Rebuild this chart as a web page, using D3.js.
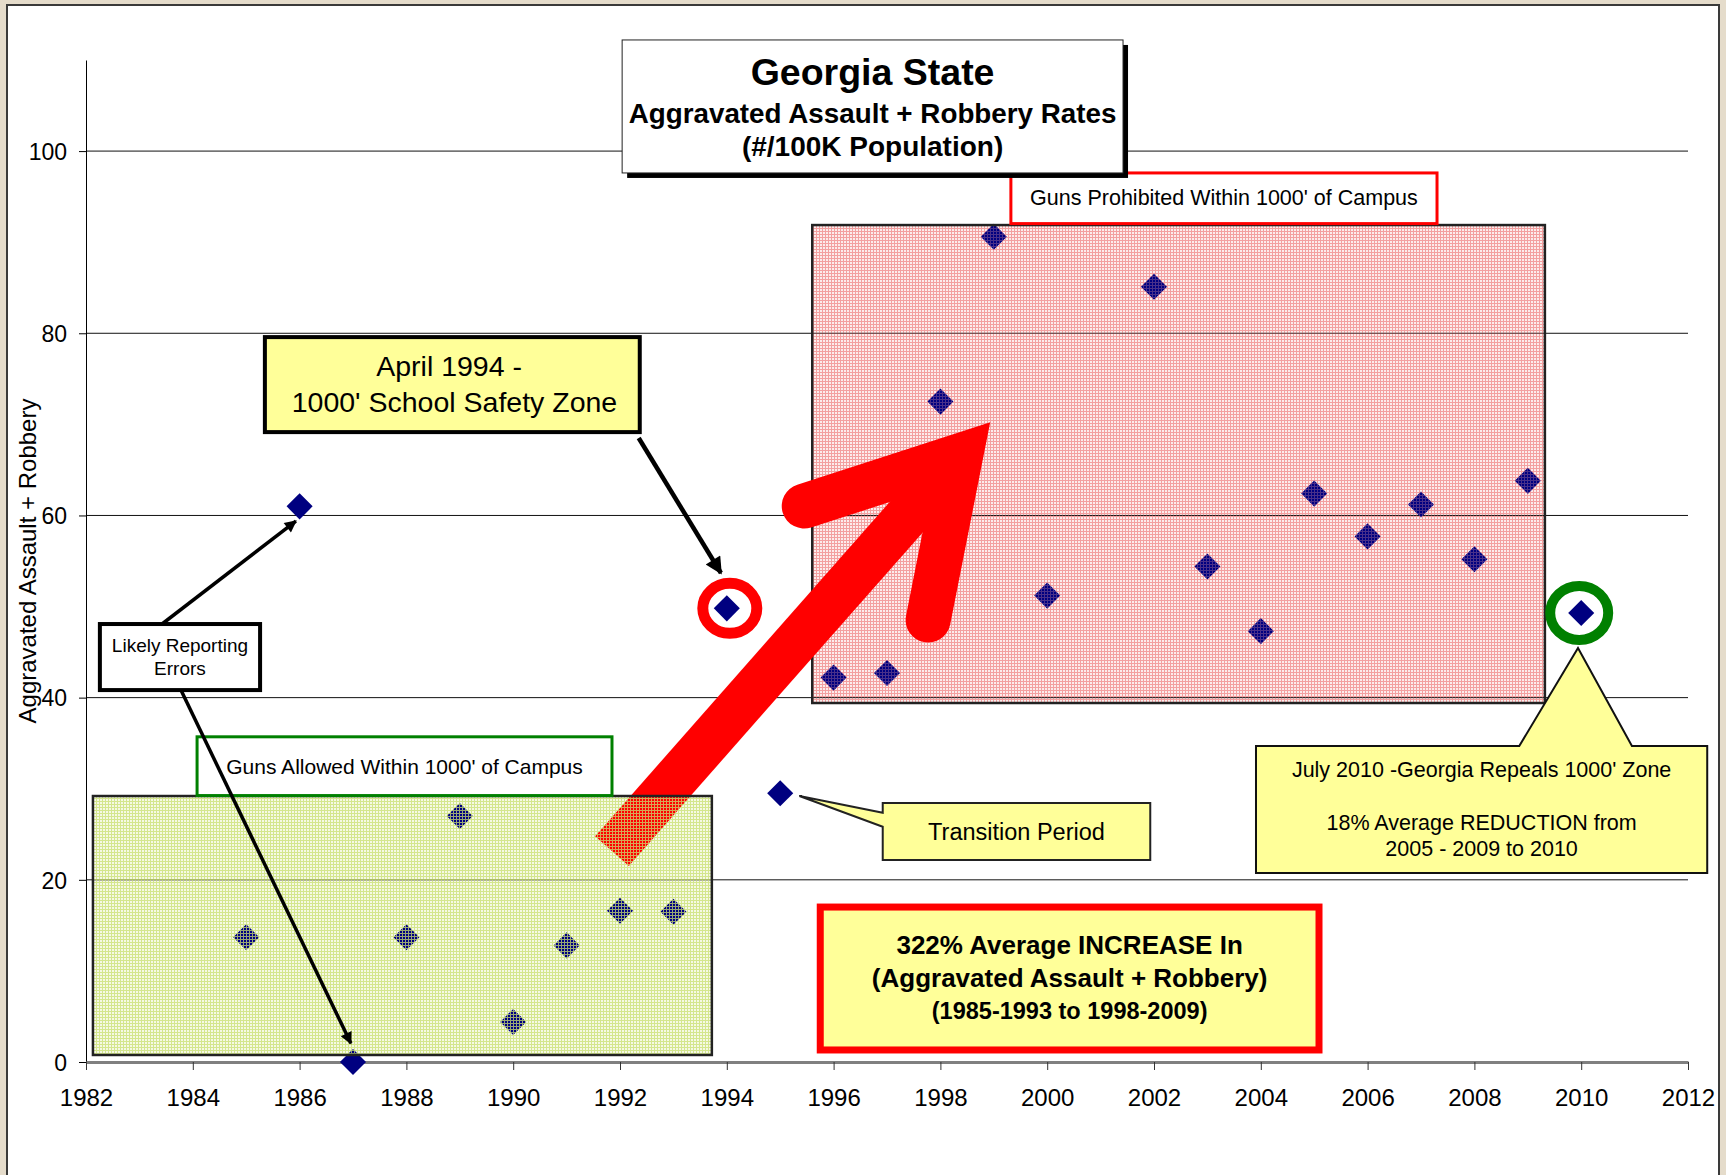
<!DOCTYPE html>
<html>
<head>
<meta charset="utf-8">
<script src="https://cdn.jsdelivr.net/npm/d3@7"></script>
<style>
  body { margin: 0; background: #e5dccb; }
  svg { display: block; font-family: "Liberation Sans", Arial, sans-serif; }
</style>
</head>
<body>
<svg width="1726" height="1175"></svg>
<script>
// Data
var years = [1985, 1986, 1987, 1988, 1989, 1990, 1991, 1992, 1993, 1994, 1995,
  1996, 1997, 1998, 1999, 2000, 2002, 2003, 2004, 2005, 2006, 2007, 2008, 2009, 2010];
var rates = [13.7, 61.0, 0, 13.7, 27.0, 4.4, 12.8, 16.6, 16.5, 49.8, 29.5,
  42.2, 42.7, 72.5, 90.6, 51.2, 85.1, 54.4, 47.3, 62.4, 57.7, 61.2, 55.2, 63.8, 49.3];
var xTicks = [1982, 1984, 1986, 1988, 1990, 1992, 1994, 1996, 1998, 2000, 2002, 2004, 2006, 2008, 2010, 2012];
var yTicks = [0, 20, 40, 60, 80, 100];

var points = years.map(function(d, i) { return {year: d, rate: rates[i]}; });

// The svg
var svg = d3.select("svg"),
  width = +svg.attr("width"),
  height = +svg.attr("height");

var margin = {top: 60, right: 38, bottom: 113, left: 86};

var x = d3.scaleLinear()
  .domain([1982, 2012])
  .range([margin.left, width - margin.right]);
var y = d3.scaleLinear()
  .domain([0, 110])
  .range([height - margin.bottom, margin.top]);

// rect in data units
function dataRect(g, x0, x1, v0, v1) {
  return g.append("rect")
    .attr("x", x(x0))
    .attr("y", y(v1))
    .attr("width", x(x1) - x(x0))
    .attr("height", y(v0) - y(v1));
}

// Patterns
var defs = svg.append("defs");
var gp = defs.append("pattern").attr("id", "greenGrid")
  .attr("width", 3).attr("height", 3).attr("patternUnits", "userSpaceOnUse");
gp.append("rect").attr("width", 3).attr("height", 1).attr("fill", "#c9df70");
gp.append("rect").attr("width", 1).attr("height", 3).attr("fill", "#c9df70");
var pp = defs.append("pattern").attr("id", "pinkGrid")
  .attr("width", 3).attr("height", 3).attr("patternUnits", "userSpaceOnUse");
pp.append("rect").attr("width", 3).attr("height", 1).attr("fill", "#f3a0a0");
pp.append("rect").attr("width", 1).attr("height", 3).attr("fill", "#f3a0a0");

function marker(id, w, h) {
  defs.append("marker").attr("id", id)
    .attr("viewBox", "0 0 10 10").attr("refX", 9).attr("refY", 5)
    .attr("markerWidth", w).attr("markerHeight", h)
    .attr("markerUnits", "userSpaceOnUse").attr("orient", "auto")
    .append("path").attr("d", "M0,0L10,5L0,10Z").attr("fill", "#000");
}
marker("headBig", 22, 17);
marker("headSmall", 15, 12);

// White panel
svg.append("rect")
  .attr("x", 7).attr("y", 5).attr("width", 1712).attr("height", 1180)
  .attr("fill", "#fff").attr("stroke", "#3a3a3a").attr("stroke-width", 2);

// Shaded period backgrounds
var pinkZone = {x0: 1995.6, x1: 2009.32, v0: 39.41, v1: 91.88};
var greenZone = {x0: 1982.13, x1: 1993.72, v0: 0.77, v1: 29.2};
dataRect(svg, pinkZone.x0, pinkZone.x1, pinkZone.v0, pinkZone.v1).attr("fill", "#fcecec");
dataRect(svg, pinkZone.x0, pinkZone.x1, pinkZone.v0, pinkZone.v1).attr("fill", "url(#pinkGrid)");
dataRect(svg, greenZone.x0, greenZone.x1, greenZone.v0, greenZone.v1).attr("fill", "#f5f9e4");

// Gridlines
svg.append("g")
  .selectAll("line")
  .data(yTicks.filter(function(d) { return d > 0; }))
  .enter()
  .append("line")
    .attr("x1", x(1982)).attr("x2", x(2012))
    .attr("y1", function(d) { return y(d); })
    .attr("y2", function(d) { return y(d); })
    .attr("stroke", "#111").attr("stroke-width", 1);

// Axes
var yAxis = svg.append("g")
  .attr("transform", "translate(" + x(1982) + ",0)")
  .call(d3.axisLeft(y).tickValues(yTicks).tickSize(7).tickSizeOuter(0).tickPadding(12));
yAxis.select(".domain").attr("stroke", "#000");
yAxis.selectAll("text").attr("font-size", 23).attr("dy", "0.36em")
  .attr("font-family", "\"Liberation Sans\", Arial, sans-serif").attr("fill", "#000");

var xAxis = svg.append("g")
  .attr("transform", "translate(0," + y(0) + ")")
  .call(d3.axisBottom(x).tickValues(xTicks).tickFormat(d3.format("d"))
    .tickSize(8).tickSizeOuter(0).tickPadding(19));
xAxis.select(".domain").attr("stroke", "#808080").attr("stroke-width", 3);
xAxis.selectAll(".tick line").attr("stroke", "#333");
xAxis.selectAll("text").attr("font-size", 24)
  .attr("font-family", "\"Liberation Sans\", Arial, sans-serif").attr("fill", "#000");

// Y axis title
svg.append("text")
  .attr("transform", "translate(36," + y(55) + ") rotate(-90)")
  .attr("text-anchor", "middle")
  .attr("font-size", 24)
  .text("Aggravated Assault + Robbery");

// Data points
svg.append("g")
  .selectAll("path")
  .data(points)
  .enter()
  .append("path")
    .attr("d", d3.symbol().type(d3.symbolSquare).size(340))
    .attr("transform", function(d) { return "translate(" + x(d.year) + "," + y(d.rate) + ") rotate(45)"; })
    .attr("fill", "#000080");

// Faint pattern over the pink zone
dataRect(svg, pinkZone.x0, pinkZone.x1, pinkZone.v0, pinkZone.v1)
  .attr("fill", "url(#pinkGrid)").attr("fill-opacity", 0.3)
  .attr("stroke", "#222").attr("stroke-width", 2.5);

// Big red arrow
var arrowShaft = [1991.85, 23.16], arrowJoin = [1998.38, 66.59];
var armLeft = [1995.45, 61.03], armRight = [1997.77, 48.52];
svg.append("line")
  .attr("x1", x(arrowShaft[0])).attr("y1", y(arrowShaft[1]))
  .attr("x2", x(arrowJoin[0])).attr("y2", y(arrowJoin[1]))
  .attr("stroke", "#ff0000").attr("stroke-width", 45);
svg.append("path")
  .attr("d", d3.line()([[x(armLeft[0]), y(armLeft[1])], [x(arrowJoin[0]), y(arrowJoin[1])], [x(armRight[0]), y(armRight[1])]]))
  .attr("fill", "none").attr("stroke", "#ff0000").attr("stroke-width", 45)
  .attr("stroke-linecap", "round").attr("stroke-linejoin", "miter");

// Pattern over the green zone (covers the arrow's tail)
dataRect(svg, greenZone.x0, greenZone.x1, greenZone.v0, greenZone.v1)
  .attr("fill", "url(#greenGrid)").attr("fill-opacity", 0.75)
  .attr("stroke", "#222").attr("stroke-width", 2.5);

// Zone labels
dataRect(svg, 1984.08, 1991.85, 29.25, 35.7)
  .attr("fill", "#fff").attr("stroke", "#008000").attr("stroke-width", 3);
svg.append("text")
  .attr("x", x((1984.08 + 1991.85) / 2)).attr("y", y(35.7) + 37)
  .attr("text-anchor", "middle").attr("font-size", 21)
  .text("Guns Allowed Within 1000' of Campus");

dataRect(svg, 1999.32, 2007.3, 92.04, 97.6)
  .attr("fill", "#fff").attr("stroke", "#ff0000").attr("stroke-width", 3);
svg.append("text")
  .attr("x", x((1999.32 + 2007.3) / 2)).attr("y", y(97.6) + 32)
  .attr("text-anchor", "middle").attr("font-size", 21.5)
  .text("Guns Prohibited Within 1000' of Campus");

// Black pointer arrows
function pointer(a, b, w, head) {
  svg.append("line")
    .attr("x1", x(a[0])).attr("y1", y(a[1]))
    .attr("x2", x(b[0])).attr("y2", y(b[1]))
    .attr("stroke", "#000").attr("stroke-width", w)
    .attr("marker-end", "url(#" + head + ")");
}
pointer([1992.35, 68.5], [1993.89, 53.68], 4.5, "headBig");
pointer([1982.62, 44.46], [1985.93, 59.38], 3.5, "headSmall");
pointer([1983.6, 43.0], [1986.96, 2.05], 3.5, "headSmall");

// Likely Reporting Errors
dataRect(svg, 1982.26, 1985.26, 40.83, 48.08)
  .attr("fill", "#fff").attr("stroke", "#000").attr("stroke-width", 4);
var likely = svg.append("text")
  .attr("text-anchor", "middle").attr("font-size", 19);
likely.append("tspan").attr("x", x(1983.76)).attr("y", y(48.08) + 28).text("Likely Reporting");
likely.append("tspan").attr("x", x(1983.76)).attr("y", y(48.08) + 51).text("Errors");

// April 1994 box
dataRect(svg, 1985.35, 1992.37, 69.15, 79.58)
  .attr("fill", "#ffff99").attr("stroke", "#000").attr("stroke-width", 4);
var april = svg.append("text")
  .attr("text-anchor", "middle").attr("font-size", 28.5);
april.append("tspan").attr("x", x(1988.8)).attr("y", y(79.58) + 39).text("April 1994 -");
april.append("tspan").attr("x", x(1988.9)).attr("y", y(79.58) + 75).text("1000' School Safety Zone");

// Highlight rings
var p1994 = points.filter(function(d) { return d.year === 1994; })[0];
var p2010 = points.filter(function(d) { return d.year === 2010; })[0];
svg.append("ellipse")
  .attr("cx", x(p1994.year) + 3).attr("cy", y(p1994.rate))
  .attr("rx", 27).attr("ry", 25)
  .attr("fill", "none").attr("stroke", "#ff0000").attr("stroke-width", 11);
svg.append("ellipse")
  .attr("cx", x(p2010.year) - 2).attr("cy", y(p2010.rate))
  .attr("rx", 29).attr("ry", 27)
  .attr("fill", "none").attr("stroke", "#008000").attr("stroke-width", 10);

// Transition Period callout
var tb = {x0: 1996.92, x1: 2001.93, v0: 22.17, v1: 28.43};
svg.append("path")
  .attr("d", d3.line()([
    [x(tb.x0), y(tb.v1)], [x(tb.x1), y(tb.v1)], [x(tb.x1), y(tb.v0)], [x(tb.x0), y(tb.v0)],
    [x(tb.x0), y(25.83)], [x(1995.36), y(29.2)], [x(tb.x0), y(27.37)]
  ]) + "Z")
  .attr("fill", "#ffff99").attr("stroke", "#222").attr("stroke-width", 2);
svg.append("text")
  .attr("x", x((tb.x0 + tb.x1) / 2)).attr("y", y(tb.v1) + 37)
  .attr("text-anchor", "middle").attr("font-size", 23.5)
  .text("Transition Period");

// July 2010 callout
var jb = {x0: 2003.91, x1: 2012.36, v0: 20.75, v1: 34.69};
svg.append("path")
  .attr("d", d3.line()([
    [x(jb.x0), y(jb.v1)], [x(2008.84), y(jb.v1)], [x(2009.94), y(45.44)], [x(2010.95), y(jb.v1)],
    [x(jb.x1), y(jb.v1)], [x(jb.x1), y(jb.v0)], [x(jb.x0), y(jb.v0)]
  ]) + "Z")
  .attr("fill", "#ffff99").attr("stroke", "#111").attr("stroke-width", 2);
var july = svg.append("text")
  .attr("text-anchor", "middle").attr("font-size", 21.5);
july.append("tspan").attr("x", x((jb.x0 + jb.x1) / 2)).attr("y", y(jb.v1) + 31).text("July 2010 -Georgia Repeals 1000' Zone");
july.append("tspan").attr("x", x((jb.x0 + jb.x1) / 2)).attr("y", y(jb.v1) + 84).text("18% Average REDUCTION from");
july.append("tspan").attr("x", x((jb.x0 + jb.x1) / 2)).attr("y", y(jb.v1) + 110).text("2005 - 2009 to 2010");

// 322% box
var rb = {x0: 1995.75, x1: 2005.09, v0: 1.32, v1: 17.01};
dataRect(svg, rb.x0, rb.x1, rb.v0, rb.v1)
  .attr("fill", "#ffff99").attr("stroke", "#ff0000").attr("stroke-width", 7);
var inc = svg.append("text")
  .attr("text-anchor", "middle").attr("font-weight", "bold");
inc.append("tspan").attr("x", x((rb.x0 + rb.x1) / 2)).attr("y", y(rb.v1) + 47)
  .attr("font-size", 26).text("322% Average INCREASE In");
inc.append("tspan").attr("x", x((rb.x0 + rb.x1) / 2)).attr("y", y(rb.v1) + 80)
  .attr("font-size", 26).text("(Aggravated Assault + Robbery)");
inc.append("tspan").attr("x", x((rb.x0 + rb.x1) / 2)).attr("y", y(rb.v1) + 112)
  .attr("font-size", 23.5).text("(1985-1993 to 1998-2009)");

// Title box
var tt = {x0: 1992.04, x1: 2001.42, v0: 97.6, v1: 112.2};
dataRect(svg, tt.x0, tt.x1, tt.v0, tt.v1)
  .attr("transform", "translate(5,5)").attr("fill", "#000");
dataRect(svg, tt.x0, tt.x1, tt.v0, tt.v1)
  .attr("fill", "#fff").attr("stroke", "#222").attr("stroke-width", 1);
var title = svg.append("text")
  .attr("text-anchor", "middle").attr("font-weight", "bold");
title.append("tspan").attr("x", x((tt.x0 + tt.x1) / 2)).attr("y", y(tt.v1) + 45)
  .attr("font-size", 37.5).text("Georgia State");
title.append("tspan").attr("x", x((tt.x0 + tt.x1) / 2)).attr("y", y(tt.v1) + 83)
  .attr("font-size", 27.8).text("Aggravated Assault + Robbery Rates");
title.append("tspan").attr("x", x((tt.x0 + tt.x1) / 2)).attr("y", y(tt.v1) + 116)
  .attr("font-size", 28).text("(#/100K Population)");
</script>
</body>
</html>
